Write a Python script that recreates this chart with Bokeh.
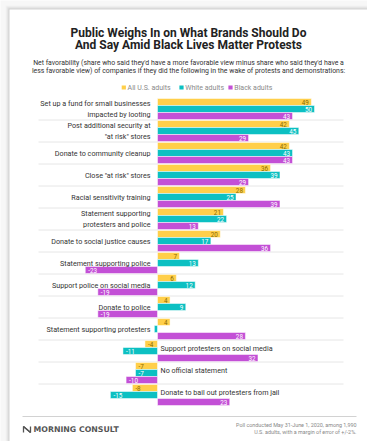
from bokeh.plotting import figure
from bokeh.models import Range1d, Label, ColumnDataSource
from bokeh.core.properties import value
from bokeh.embed import file_html
from bokeh.resources import INLINE

# ---------------- data ----------------
categories = [
    "Set up a fund for small businesses\nimpacted by looting",
    "Post additional security at\n\"at risk\" stores",
    "Donate to community cleanup",
    "Close \"at risk\" stores",
    "Racial sensitivity training",
    "Statement supporting\nprotesters and police",
    "Donate to social justice causes",
    "Statement supporting police",
    "Support police on social media",
    "Donate to police",
    "Statement supporting protesters",
    "Support protesters on social media",
    "No official statement",
    "Donate to bail out protesters from jail",
]
all_adults = [49, 42, 42, 36, 28, 21, 20, 7, 6, 4, 4, -4, -7, -8]
white_adults = [50, 45, 43, 39, 25, 22, 17, 13, 12, 9, -1, -11, -7, -15]
black_adults = [43, 29, 43, 29, 39, 13, 36, -23, -19, -19, 28, 32, -10, 23]
series_names = ["All U.S. adults", "White adults", "Black adults"]

title_lines = ["Public Weighs In on What Brands Should Do",
               "And Say Amid Black Lives Matter Protests"]
subtitle_lines = ["Net favorability (share who said they'd have a more favorable view minus share who said they'd have a",
                  "less favorable view) of companies if they did the following in the wake of protests and demonstrations:"]
footer_lines = ["Poll conducted May 31-June 1, 2020, among 1,990",
                "U.S. adults, with a margin of error of +/-2%."]
brand = "MORNING CONSULT"

# ---------------- layout ----------------
W, H = 367, 441
ZERO_PX, PX_PER = 157.0, 3.14
ROW0, RH = 108.5, 22.0
BAR_PX = 7.0

def xd(px):
    return (px - ZERO_PX) / PX_PER

def yd(py):
    return (py - ROW0) / RH

colors = ["#FFCF4A", "#0CC0C2", "#C350D6"]
label_colors = ["#8a6a00", "#ffffff", "#ffffff"]
FONT = "Roboto"

p = figure(width=W, height=H, output_backend="svg", toolbar_location=None,
           x_range=Range1d(xd(0), xd(W)), y_range=Range1d(yd(H), yd(0)),
           x_axis_location=None, y_axis_location=None, min_border=0,
           background_fill_color="#f7f7f7", border_fill_color="#f7f7f7",
           outline_line_color=None)
p.grid.visible = False

# card with soft shadow
for k, a in enumerate([0.02, 0.03, 0.04, 0.06]):
    s = 4 - k
    p.quad(left=xd(9 - s), right=xd(W), top=yd(9 - s), bottom=yd(H),
           fill_color="#000000", fill_alpha=a, line_color=None)
p.quad(left=xd(9), right=xd(W), top=yd(9), bottom=yd(H),
       fill_color="#ffffff", line_color=None)

# row separators
n = len(categories)
p.segment(x0=[xd(38)] * (n - 1), x1=[xd(343)] * (n - 1),
          y0=[i + 0.5 for i in range(n - 1)], y1=[i + 0.5 for i in range(n - 1)],
          line_color="#e6e6e6", line_width=1)

# bars
off = BAR_PX / RH
series = [all_adults, white_adults, black_adults]
for k, vals in enumerate(series):
    ys = [i + (k - 1) * off for i in range(n)]
    src = ColumnDataSource(dict(y=ys, v=vals, zero=[0] * n))
    p.hbar(y="y", left="zero", right="v", height=off, source=src,
           fill_color=colors[k], line_color="#ffffff", line_alpha=0.7, line_width=0.7)
    pos = [(y, v) for y, v in zip(ys, vals) if v >= 2]
    neg = [(y, v) for y, v in zip(ys, vals) if v <= -2]
    if pos:
        p.text(x=[v for _, v in pos], y=[y for y, _ in pos], text=[str(v) for _, v in pos],
               x_offset=-2.5, text_align="right", text_baseline="middle",
               text_font=value(FONT), text_font_size="6.3px", text_color=label_colors[k])
    if neg:
        p.text(x=[v for _, v in neg], y=[y for y, _ in neg], text=[str(v) for _, v in neg],
               x_offset=3, text_align="left", text_baseline="middle",
               text_font=value(FONT), text_font_size="6.3px", text_color=label_colors[k])

# category labels
right_rows = [i for i in range(n) if all_adults[i] >= 0]
left_rows = [i for i in range(n) if all_adults[i] < 0]
p.text(x=[0] * len(right_rows), y=right_rows, text=[categories[i] for i in right_rows],
       x_offset=-7, text_align="right", text_baseline="middle", text_line_height=1.25,
       text_font=value(FONT), text_font_size="7.2px", text_color="#333333")
p.text(x=[0] * len(left_rows), y=[i - 0.12 for i in left_rows], text=[categories[i] for i in left_rows],
       x_offset=3, text_align="left", text_baseline="middle",
       text_font=value(FONT), text_font_size="7.2px", text_color="#333333")

# title & subtitle
CX = 188
for t, py in zip(title_lines, [32.5, 44.5]):
    p.add_layout(Label(x=xd(CX), y=yd(py), text=t, text_align="center", text_baseline="middle",
                       text_font=FONT, text_font_style="bold", text_font_size="12px",
                       text_color="#222222"))
for t, py in zip(subtitle_lines, [62.5, 70]):
    p.add_layout(Label(x=xd(CX), y=yd(py), text=t, text_align="center", text_baseline="middle",
                       text_font=FONT, text_font_size="6.9px", text_color="#333333"))

# legend
leg_px = [123.3, 181, 230]
p.scatter(x=[xd(v) for v in leg_px], y=[yd(87)] * 3, marker="square", size=4.2,
          fill_color=colors, line_color=None)
p.text(x=[xd(v + 3.8) for v in leg_px], y=[yd(87)] * 3, text=series_names,
       text_align="left", text_baseline="middle", text_font=value(FONT),
       text_font_size="7px", text_color="#8a8a8a")

# footer
p.segment(x0=[xd(22)], x1=[xd(356)], y0=[yd(416)], y1=[yd(416)],
          line_color="#d2d2d2", line_width=1)
p.multi_line(xs=[[xd(23), xd(23), xd(30), xd(30)], [xd(23), xd(30)]],
             ys=[[yd(432), yd(426), yd(432), yd(426)], [yd(426), yd(432)]],
             line_color="#555555", line_width=1.3)
p.add_layout(Label(x=xd(33), y=yd(429), text=brand, text_align="left", text_baseline="middle",
                   text_font="DejaVu Sans", text_font_style="bold", text_font_size="7.8px",
                   text_color="#555555"))
for t, py in zip(footer_lines, [424.3, 431.3]):
    p.add_layout(Label(x=xd(356), y=yd(py), text=t, text_align="right", text_baseline="middle",
                       text_font=FONT, text_font_size="5.4px", text_color="#888888"))

open("out.html", "w").write(file_html(p, INLINE))
